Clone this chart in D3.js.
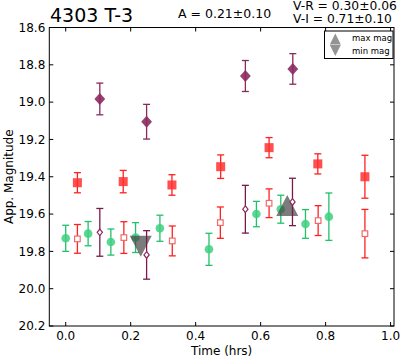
<!DOCTYPE html>
<html><head><meta charset="utf-8">
<script src="https://cdn.jsdelivr.net/npm/d3@7"></script>
<style>body{margin:0;background:#fff}svg{display:block;font-family:"DejaVu Sans",sans-serif}</style>
</head><body><svg id="c" width="400" height="360"></svg>
<script>
// ---- data ----
const xTicks = [0.0, 0.2, 0.4, 0.6, 0.8, 1.0];
const yTicks = [18.6, 18.8, 19.0, 19.2, 19.4, 19.6, 19.8, 20.0, 20.2];

const greenT = [0.0, 0.069, 0.139, 0.215, 0.29, 0.441, 0.587, 0.662, 0.738, 0.81];
const greenM = [19.73, 19.705, 19.75, 19.726, 19.676, 19.789, 19.60, 19.574, 19.653, 19.614];
const greenE = [0.07, 0.065, 0.07, 0.08, 0.07, 0.086, 0.068, 0.075, 0.077, 0.127];

const redT = [0.036, 0.177, 0.327, 0.477, 0.626, 0.776, 0.921];
const redM = [19.432, 19.426, 19.444, 19.346, 19.244, 19.331, 19.40];
const redE = [0.054, 0.06, 0.055, 0.063, 0.054, 0.054, 0.115];

const redOpenT = [0.036, 0.179, 0.328, 0.476, 0.626, 0.777, 0.921];
const redOpenM = [19.733, 19.726, 19.744, 19.646, 19.542, 19.635, 19.705];
const redOpenE = [0.077, 0.085, 0.08, 0.084, 0.077, 0.08, 0.13];

const purT = [0.105, 0.249, 0.553, 0.699];
const purM = [18.983, 19.105, 18.86, 18.822];
const purE = [0.085, 0.093, 0.083, 0.082];

const purOpenT = [0.105, 0.249, 0.553, 0.698];
const purOpenM = [19.698, 19.819, 19.574, 19.535];
const purOpenE = [0.128, 0.13, 0.128, 0.127];

const maxMag = {t: 0.682, m: 19.554};
const minMag = {t: 0.231, m: 19.772};

const title = "4303 T-3";
const ampText = "A  = 0.21\u00b10.10";
const vrText = "V-R = 0.30\u00b10.06";
const viText = "V-I  = 0.71\u00b10.10";

// ---- layout ----
const svg = d3.select("#c");
const L = 49.3, R = 394, T = 27.5, B = 326;
const x = d3.scaleLinear().domain([-0.0505, 1.0105]).range([L, R]);
const y = d3.scaleLinear().domain([18.6, 20.2]).range([T, B]);

const g = svg.append("g");

function errbars(ts, ms, es, color, cap) {
  const grp = g.append("g").attr("stroke", color).attr("stroke-width", 1.3);
  ts.forEach((t, i) => {
    const cx = x(t), y0 = y(ms[i] - es[i]), y1 = y(ms[i] + es[i]);
    grp.append("line").attr("x1", cx).attr("x2", cx).attr("y1", y0).attr("y2", y1);
    grp.append("line").attr("x1", cx - cap).attr("x2", cx + cap).attr("y1", y0).attr("y2", y0);
    grp.append("line").attr("x1", cx - cap).attr("x2", cx + cap).attr("y1", y1).attr("y2", y1);
  });
}
function diamonds(ts, ms, r, wf, fill, stroke, sw, fop) {
  g.append("g").selectAll("path").data(ts).join("path")
    .attr("d", `M0,${-r}L${r*wf},0L0,${r}L${-r*wf},0Z`)
    .attr("transform", (t, i) => `translate(${x(t)},${y(ms[i])})`)
    .attr("fill", fill).attr("fill-opacity", fop).attr("stroke", stroke).attr("stroke-width", sw);
}
function tri(cx, cy, w, h, up) {
  return up ? `M${cx},${cy - h/2}L${cx + w/2},${cy + h/2}L${cx - w/2},${cy + h/2}Z`
            : `M${cx},${cy + h/2}L${cx + w/2},${cy - h/2}L${cx - w/2},${cy - h/2}Z`;
}

// green
errbars(greenT, greenM, greenE, "#22c06a", 3.5);
g.append("g").selectAll("circle").data(greenT).join("circle")
  .attr("cx", d => x(d)).attr("cy", (d, i) => y(greenM[i])).attr("r", 4.3)
  .attr("fill", "#3dd07f").attr("fill-opacity", 0.85);

// gray triangles
g.append("path").attr("d", tri(x(maxMag.t), y(maxMag.m), 22, 21, true)).attr("fill", "#444").attr("fill-opacity", 0.7);
g.append("path").attr("d", tri(x(minMag.t), y(minMag.m), 22, 21, false)).attr("fill", "#444").attr("fill-opacity", 0.7);

// red filled squares
errbars(redT, redM, redE, "#ff2020", 3.5);
g.append("g").selectAll("rect").data(redT).join("rect")
  .attr("x", d => x(d) - 4.5).attr("y", (d, i) => y(redM[i]) - 4.5).attr("width", 9).attr("height", 9)
  .attr("fill", "#ff3030").attr("fill-opacity", 0.85);

// red open squares
errbars(redOpenT, redOpenM, redOpenE, "#ff2020", 3.5);
g.append("g").selectAll("rect").data(redOpenT).join("rect")
  .attr("x", d => x(d) - 2.8).attr("y", (d, i) => y(redOpenM[i]) - 2.8).attr("width", 5.6).attr("height", 5.6)
  .attr("fill", "#fff").attr("stroke", "#f06a6a").attr("stroke-width", 1.2);

// purple filled diamonds
errbars(purT, purM, purE, "#8a2a5a", 3.5);
diamonds(purT, purM, 6, 0.9, "#8c2a60", "none", 0, 0.9);

// purple open diamonds
errbars(purOpenT, purOpenM, purOpenE, "#7a1a4c", 3.5);
diamonds(purOpenT, purOpenM, 3.3, 0.8, "#fff", "#8c2a60", 1.2, 1);

// ---- axes frame ----
svg.append("rect").attr("x", L).attr("y", T).attr("width", R - L).attr("height", B - T)
  .attr("fill", "none").attr("stroke", "#000").attr("stroke-width", 1);
const tk = svg.append("g").attr("stroke", "#000").attr("stroke-width", 1);
xTicks.forEach(v => {
  tk.append("line").attr("x1", x(v)).attr("x2", x(v)).attr("y1", B).attr("y2", B - 4);
  tk.append("line").attr("x1", x(v)).attr("x2", x(v)).attr("y1", T).attr("y2", T + 4);
});
yTicks.forEach(v => {
  tk.append("line").attr("x1", L).attr("x2", L + 4).attr("y1", y(v)).attr("y2", y(v));
  tk.append("line").attr("x1", R).attr("x2", R - 4).attr("y1", y(v)).attr("y2", y(v));
});
const fmt = d3.format(".1f");
svg.append("g").selectAll("text").data(xTicks).join("text")
  .attr("x", d => x(d)).attr("y", 340).attr("text-anchor", "middle")
  .attr("font-size", 12).text(fmt);
svg.append("g").selectAll("text").data(yTicks).join("text")
  .attr("x", L - 4).attr("y", d => y(d) + 4.3).attr("text-anchor", "end")
  .attr("font-size", 12).text(fmt);

svg.append("text").attr("x", (L + R) / 2).attr("y", 355).attr("text-anchor", "middle")
  .attr("font-size", 12).text("Time (hrs)");
svg.append("text").attr("transform", `translate(13,${(T + B) / 2}) rotate(-90)`)
  .attr("text-anchor", "middle").attr("font-size", 12).text("App. Magnitude");

// titles
svg.append("text").attr("x", 50).attr("y", 22).attr("font-size", 19).text(title);
svg.append("text").attr("x", 178).attr("y", 17.5).attr("font-size", 12.5).text(ampText);
svg.append("text").attr("x", 293).attr("y", 10).attr("font-size", 12.3).text(vrText);
svg.append("text").attr("x", 293).attr("y", 23).attr("font-size", 12.3).text(viText);

// legend
const lg = svg.append("g");
lg.append("rect").attr("x", 324.5).attr("y", 31).attr("width", 68.5).attr("height", 27.5)
  .attr("fill", "#fff").attr("stroke", "#000").attr("stroke-width", 1);
lg.append("path").attr("d", tri(335.3, 39, 11, 11, true)).attr("fill", "#888").attr("fill-opacity", 0.9);
lg.append("path").attr("d", tri(335.3, 50.5, 11, 11, false)).attr("fill", "#888").attr("fill-opacity", 0.9);
lg.append("text").attr("x", 352).attr("y", 41).attr("font-size", 8.5).text("max mag");
lg.append("text").attr("x", 352).attr("y", 54).attr("font-size", 8.5).text("min mag");
</script></body></html>
